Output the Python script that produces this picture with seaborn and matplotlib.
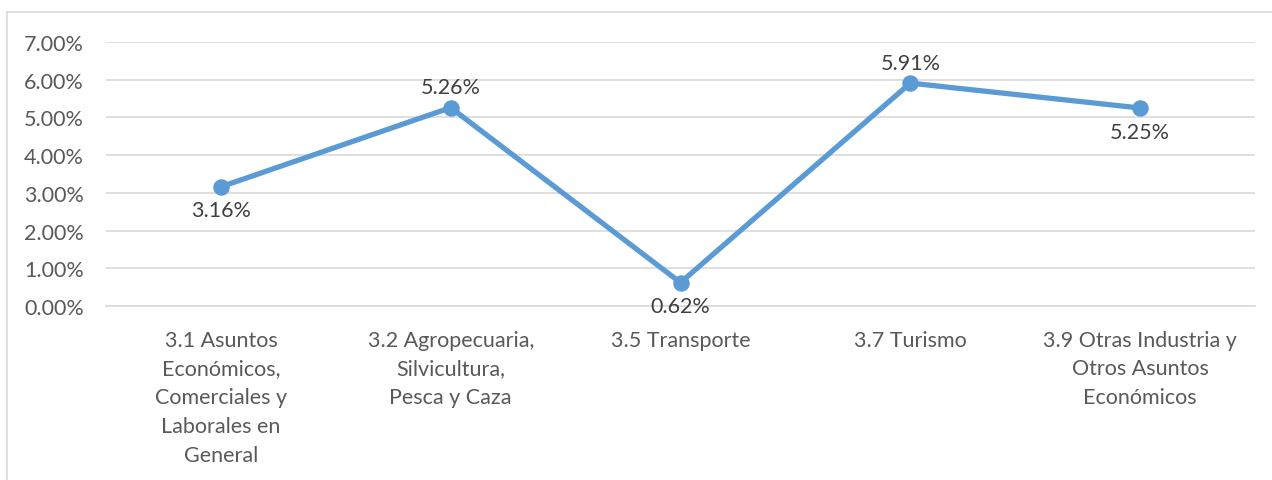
import matplotlib
matplotlib.use("Agg")
import matplotlib.pyplot as plt
from matplotlib.lines import Line2D
import seaborn as sns
import pandas as pd

categories = [
    "3.1 Asuntos\nEconómicos,\nComerciales y\nLaborales en\nGeneral",
    "3.2 Agropecuaria,\nSilvicultura,\nPesca y Caza",
    "3.5 Transporte",
    "3.7 Turismo",
    "3.9 Otras Industria y\nOtros Asuntos\nEconómicos",
]
values = [0.0316, 0.0526, 0.0062, 0.0591, 0.0525]
label_pos = ["below", "above", "below", "above", "below"]
yticks = [0.0, 0.01, 0.02, 0.03, 0.04, 0.05, 0.06, 0.07]

sns.set_theme(style="white")
plt.rcParams["font.family"] = ["Lato", "DejaVu Sans"]

df = pd.DataFrame({"cat": categories, "val": values})

fig = plt.figure(figsize=(12.72, 4.81), dpi=100)
ax = fig.add_axes([106 / 1272, 1 - 307 / 481, 1149 / 1272, 264 / 481])

line_color = "#5B9BD5"
sns.pointplot(data=df, x="cat", y="val", color=line_color, errorbar=None,
              markers="o", linestyles="-", ax=ax,
              markersize=9, linewidth=3.8)

ax.set_xlim(-0.5, len(categories) - 0.5)
ax.set_ylim(0, 0.07)
ax.set_yticks(yticks)
ax.set_yticklabels([f"{v * 100:.2f}%" for v in yticks])
ax.yaxis.grid(True, color="#D9D9D9", linewidth=1.2)
ax.set_axisbelow(True)
for s in ax.spines.values():
    s.set_visible(False)
ax.spines["bottom"].set_visible(True)
ax.spines["bottom"].set_color("#D9D9D9")
ax.spines["bottom"].set_linewidth(1.2)
ax.set_xlabel("")
ax.set_ylabel("")
ax.tick_params(axis="both", length=0, labelsize=15.5, colors="#595959")
ax.tick_params(axis="y", pad=16)
ax.tick_params(axis="x", pad=17)
for t in ax.get_xticklabels():
    t.set_multialignment("center")
    t.set_linespacing(1.55)

for i, (v, pos) in enumerate(zip(values, label_pos)):
    off = 14.5 if pos == "above" else -17
    ax.annotate(f"{v * 100:.2f}%", (i, v), xytext=(0, off), textcoords="offset points",
                ha="center", va="center", fontsize=15.5, color="#404040")

# outer chart frame
fig.add_artist(Line2D([7 / 1272, 7 / 1272], [0, 1 - 13 / 481], transform=fig.transFigure,
                      color="#D9D9D9", linewidth=1.2))
fig.add_artist(Line2D([7 / 1272, 1], [1 - 13 / 481, 1 - 13 / 481], transform=fig.transFigure,
                      color="#D9D9D9", linewidth=1.2))

fig.savefig("out.png", dpi=100, facecolor="white")
